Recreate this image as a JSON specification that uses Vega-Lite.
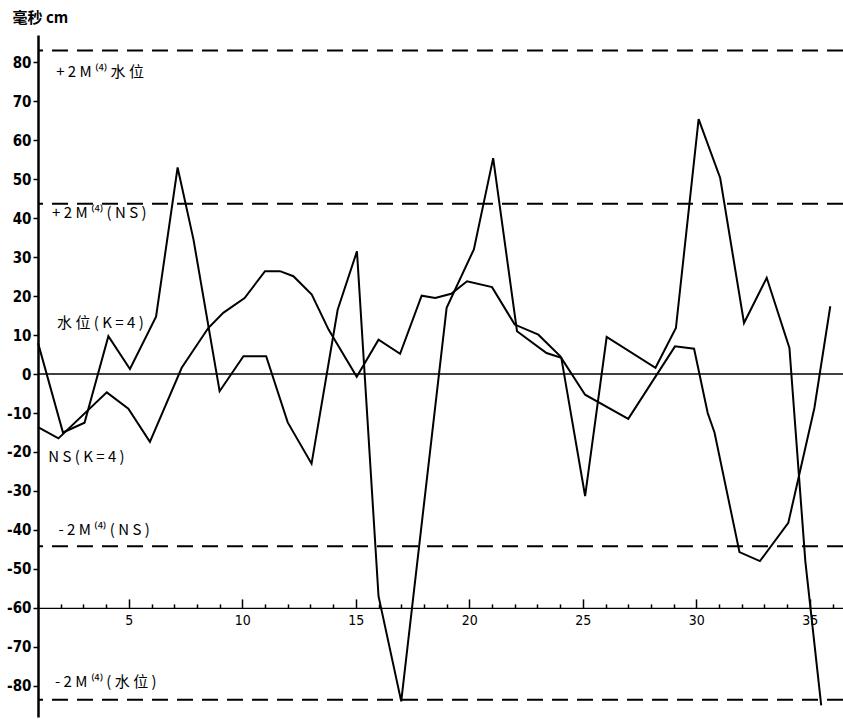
{
  "$schema": "https://vega.github.io/schema/vega-lite/v6.json",
  "width": 805,
  "height": 682,
  "autosize": {"type": "none"},
  "padding": {"left": 38, "top": 35, "right": 0, "bottom": 2},
  "background": "white",
  "config": {"view": {"stroke": null}, "axis": {"grid": false}},
  "datasets": {
    "series": [
      {"day": 1, "value": 8, "series": "水位"},
      {"day": 2.1, "value": -15, "series": "水位"},
      {"day": 3.05, "value": -12.5, "series": "水位"},
      {"day": 4.1, "value": 9.7, "series": "水位"},
      {"day": 5.05, "value": 1.3, "series": "水位"},
      {"day": 6.2, "value": 14.7, "series": "水位"},
      {"day": 7.15, "value": 53, "series": "水位"},
      {"day": 7.85, "value": 34.5, "series": "水位"},
      {"day": 9, "value": -4.4, "series": "水位"},
      {"day": 10.05, "value": 4.6, "series": "水位"},
      {"day": 11.05, "value": 4.6, "series": "水位"},
      {"day": 12, "value": -12.4, "series": "水位"},
      {"day": 13.05, "value": -23, "series": "水位"},
      {"day": 14.2, "value": 16.5, "series": "水位"},
      {"day": 15.05, "value": 31.5, "series": "水位"},
      {"day": 16, "value": -57, "series": "水位"},
      {"day": 17, "value": -84, "series": "水位"},
      {"day": 19, "value": 17, "series": "水位"},
      {"day": 20.2, "value": 32, "series": "水位"},
      {"day": 21.05, "value": 55.4, "series": "水位"},
      {"day": 22.1, "value": 11, "series": "水位"},
      {"day": 23.4, "value": 5.4, "series": "水位"},
      {"day": 24.05, "value": 4.2, "series": "水位"},
      {"day": 25.1, "value": -31.3, "series": "水位"},
      {"day": 26.05, "value": 9.5, "series": "水位"},
      {"day": 28.2, "value": 1.6, "series": "水位"},
      {"day": 29.1, "value": 11.8, "series": "水位"},
      {"day": 30.1, "value": 65.4, "series": "水位"},
      {"day": 31.05, "value": 50.3, "series": "水位"},
      {"day": 32.1, "value": 13.1, "series": "水位"},
      {"day": 33.1, "value": 24.7, "series": "水位"},
      {"day": 34.1, "value": 6.7, "series": "水位"},
      {"day": 34.8, "value": -48, "series": "水位"},
      {"day": 35.5, "value": -85, "series": "水位"},
      {"day": 1, "value": -13.6, "series": "NS"},
      {"day": 1.9, "value": -16.5, "series": "NS"},
      {"day": 4.03, "value": -4.7, "series": "NS"},
      {"day": 4.98, "value": -8.9, "series": "NS"},
      {"day": 5.93, "value": -17.4, "series": "NS"},
      {"day": 7.33, "value": 1.6, "series": "NS"},
      {"day": 8.5, "value": 11.8, "series": "NS"},
      {"day": 9.16, "value": 15.7, "series": "NS"},
      {"day": 10.1, "value": 19.5, "series": "NS"},
      {"day": 11, "value": 26.4, "series": "NS"},
      {"day": 11.66, "value": 26.4, "series": "NS"},
      {"day": 12.25, "value": 25.1, "series": "NS"},
      {"day": 13.06, "value": 20.4, "series": "NS"},
      {"day": 13.8, "value": 11.4, "series": "NS"},
      {"day": 15.04, "value": -0.7, "series": "NS"},
      {"day": 16, "value": 8.8, "series": "NS"},
      {"day": 16.95, "value": 5.2, "series": "NS"},
      {"day": 17.9, "value": 20.1, "series": "NS"},
      {"day": 18.5, "value": 19.5, "series": "NS"},
      {"day": 19.2, "value": 20.6, "series": "NS"},
      {"day": 19.9, "value": 23.8, "series": "NS"},
      {"day": 21, "value": 22.3, "series": "NS"},
      {"day": 22, "value": 12.7, "series": "NS"},
      {"day": 23.04, "value": 10.1, "series": "NS"},
      {"day": 24, "value": 4.6, "series": "NS"},
      {"day": 25.1, "value": -5.3, "series": "NS"},
      {"day": 27, "value": -11.5, "series": "NS"},
      {"day": 29.06, "value": 7.1, "series": "NS"},
      {"day": 29.9, "value": 6.5, "series": "NS"},
      {"day": 30.5, "value": -10, "series": "NS"},
      {"day": 30.8, "value": -15, "series": "NS"},
      {"day": 31.9, "value": -45.7, "series": "NS"},
      {"day": 32.8, "value": -48, "series": "NS"},
      {"day": 34.05, "value": -38.2, "series": "NS"},
      {"day": 35.2, "value": -8.7, "series": "NS"},
      {"day": 35.9, "value": 17.4, "series": "NS"}
    ],
    "limits": [
      {"level": 83, "name": "+2M 水位"},
      {"level": 43.7, "name": "+2M NS"},
      {"level": -44.2, "name": "-2M NS"},
      {"level": -83.6, "name": "-2M 水位"}
    ],
    "labels": [
      {"day": 1.8, "value": 77.4, "text": "+ 2 M ⁽⁴⁾ 水 位"},
      {"day": 1.62, "value": 41.2, "text": "+ 2 M ⁽⁴⁾ ( N S )"},
      {"day": 1.84, "value": 13.2, "text": "水 位 ( K = 4 )"},
      {"day": 1.45, "value": -21.3, "text": "N S ( K = 4 )"},
      {"day": 1.9, "value": -39.9, "text": "- 2 M ⁽⁴⁾ ( N S )"},
      {"day": 1.75, "value": -79.1, "text": "- 2 M ⁽⁴⁾ (  水  位  )"}
    ]
  },
  "layer": [
    {
      "data": {"name": "limits"},
      "mark": {"type": "rule", "color": "black", "strokeWidth": 2, "strokeDash": [16, 9]},
      "encoding": {
        "y": {"field": "level", "type": "quantitative", "scale": {"domain": [-88, 87], "nice": false, "zero": false}}
      }
    },
    {
      "data": {"values": [{"level": 0}]},
      "mark": {"type": "rule", "color": "black", "strokeWidth": 1.5},
      "encoding": {
        "y": {"field": "level", "type": "quantitative"}
      }
    },
    {
      "data": {"name": "series"},
      "mark": {"type": "line", "color": "black", "strokeWidth": 2, "strokeJoin": "miter"},
      "encoding": {
        "x": {
          "field": "day", "type": "quantitative",
          "scale": {"domain": [1, 36.46], "nice": false, "zero": false},
          "axis": {
            "orient": "top",
            "offset": -572.9,
            "values": [1,2,3,4,5,6,7,8,9,10,11,12,13,14,15,16,17,18,19,20,21,22,23,24,25,26,27,28,29,30,31,32,33,34,35,36],
            "title": null,
            "domain": true,
            "domainColor": "black",
            "domainWidth": 1.2,
            "ticks": true,
            "tickColor": "black",
            "tickWidth": 1.5,
            "tickSize": {"condition": {"test": "datum.value % 5 === 0", "value": 9}, "value": 4},
            "labelOverlap": false,
            "labelExpr": "datum.value % 5 === 0 ? '' + datum.value : ''",
            "labelFont": "DejaVu Sans Condensed",
            "labelFontSize": 14,
            "labelColor": "black",
            "labelBaseline": "top",
            "labelPadding": -15
          }
        },
        "y": {
          "field": "value", "type": "quantitative",
          "axis": {
            "orient": "left",
            "values": [-80,-70,-60,-50,-40,-30,-20,-10,0,10,20,30,40,50,60,70,80],
            "domain": true,
            "domainColor": "black",
            "domainWidth": 2.5,
            "ticks": true,
            "tickColor": "black",
            "tickWidth": 1.5,
            "tickSize": 5,
            "labelExpr": "'' + datum.value",
            "labelFont": "DejaVu Sans Condensed",
            "labelFontWeight": "bold",
            "labelFontSize": 15,
            "labelColor": "black",
            "labelPadding": 2,
            "title": "毫秒 cm",
            "titleAngle": 0,
            "titleX": -26,
            "titleY": -18,
            "titleAlign": "left",
            "titleBaseline": "middle",
            "titleFont": "Noto Sans CJK SC",
            "titleFontSize": 15,
            "titleFontWeight": "bold",
            "titleColor": "black"
          }
        },
        "detail": {"field": "series", "type": "nominal"}
      }
    },
    {
      "data": {"name": "labels"},
      "mark": {"type": "text", "align": "left", "baseline": "middle", "font": "Noto Sans CJK SC", "fontSize": 15, "color": "black"},
      "encoding": {
        "x": {
          "field": "day", "type": "quantitative",
          "axis": {
            "orient": "top",
            "offset": -572.9,
            "values": [1,2,3,4,5,6,7,8,9,10,11,12,13,14,15,16,17,18,19,20,21,22,23,24,25,26,27,28,29,30,31,32,33,34,35,36],
            "title": null,
            "domain": true,
            "domainColor": "black",
            "domainWidth": 1.2,
            "ticks": true,
            "tickColor": "black",
            "tickWidth": 1.5,
            "tickSize": {"condition": {"test": "datum.value % 5 === 0", "value": 9}, "value": 4},
            "labelOverlap": false,
            "labelExpr": "datum.value % 5 === 0 ? '' + datum.value : ''",
            "labelFont": "DejaVu Sans Condensed",
            "labelFontSize": 14,
            "labelColor": "black",
            "labelBaseline": "top",
            "labelPadding": -15
          }
        },
        "y": {"field": "value", "type": "quantitative"},
        "text": {"field": "text", "type": "nominal"}
      }
    }
  ]
}
